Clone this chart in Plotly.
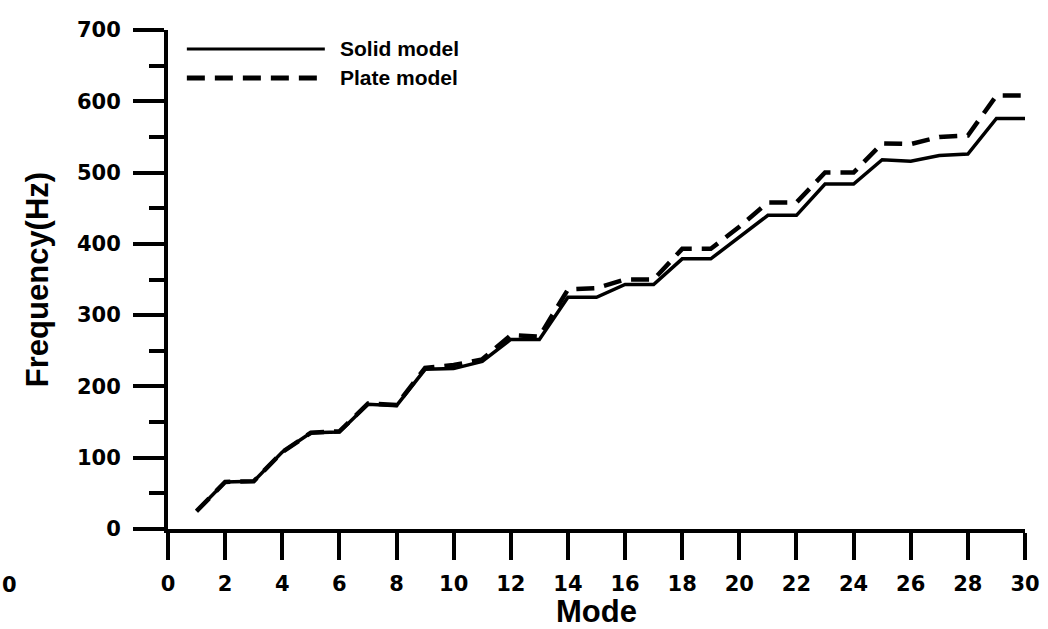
import plotly.graph_objects as go

modes = list(range(1, 31))
solid_model = [25, 66, 67, 108, 135, 136, 175, 173, 224, 225, 235, 266, 266, 325, 325,
               343, 343, 379, 379, 410, 440, 440, 484, 484, 518, 516, 524, 526, 576, 576]
plate_model = [25, 66, 67, 108, 135, 137, 176, 174, 226, 230, 238, 272, 270, 336, 338,
               350, 350, 393, 393, 424, 458, 458, 500, 500, 541, 540, 550, 552, 608, 608]
series_names = ["Solid model", "Plate model"]
x_ticks = list(range(0, 31, 2))
y_ticks = list(range(0, 701, 100))

fig = go.Figure()
fig.add_trace(go.Scatter(x=modes, y=solid_model, mode="lines", name=series_names[0],
                         line=dict(color="black", width=3.5), showlegend=False))
fig.add_trace(go.Scatter(x=modes, y=plate_model, mode="lines", name=series_names[1],
                         line=dict(color="black", width=4.5, dash="18px,10px"), showlegend=False))

tickfont = dict(family="DejaVu Sans", size=21, color="black", weight="bold")
titlefont = dict(family="Liberation Sans", size=31, color="black", weight="bold")

fig.update_layout(
    width=1048, height=629,
    margin=dict(l=168, r=23, t=30, b=100),
    paper_bgcolor="white", plot_bgcolor="white",
    xaxis=dict(range=[0, 30], tickvals=x_ticks, ticks="outside", ticklen=27, tickwidth=4,
               tickcolor="black", showline=True, linewidth=4, linecolor="black",
               showgrid=False, zeroline=False, tickfont=tickfont, automargin=False,
               ticklabelstandoff=6,
               title=dict(text="Mode", font=titlefont, standoff=2)),
    yaxis=dict(range=[0, 700], tickvals=y_ticks, ticks="outside", ticklen=31, tickwidth=4,
               tickcolor="black", showline=True, linewidth=4, linecolor="black",
               showgrid=False, zeroline=False, tickfont=tickfont, automargin=False,
               ticklabelstandoff=8,
               minor=dict(dtick=50, ticks="outside", ticklen=15, tickwidth=4, tickcolor="black", showgrid=False),
               title=dict(text="Frequency(Hz)", font=titlefont, standoff=20)),
)

# legend drawn manually to match long sample lines
legend_font = dict(family="Liberation Sans", size=21, color="black", weight="bold")
for yv, nm, dash, w in [(0.962, series_names[0], "solid", 3), (0.904, series_names[1], "18px,10px", 5)]:
    fig.add_shape(type="line", xref="paper", yref="paper", x0=0.022, x1=0.183, y0=yv, y1=yv,
                  line=dict(color="black", width=w, dash=dash))
    fig.add_annotation(xref="paper", yref="paper", x=0.198, y=yv, text=nm, showarrow=False,
                       xanchor="left", yanchor="middle", font=legend_font)

# visible remnant of the neighbouring panel's tick label at the left edge
fig.add_annotation(xref="paper", yref="paper", x=(19 - 168) / 857, y=(529 - 585) / 499,
                   text="0", showarrow=False, xanchor="right", yanchor="middle", font=tickfont)

fig.write_html("out.html")
